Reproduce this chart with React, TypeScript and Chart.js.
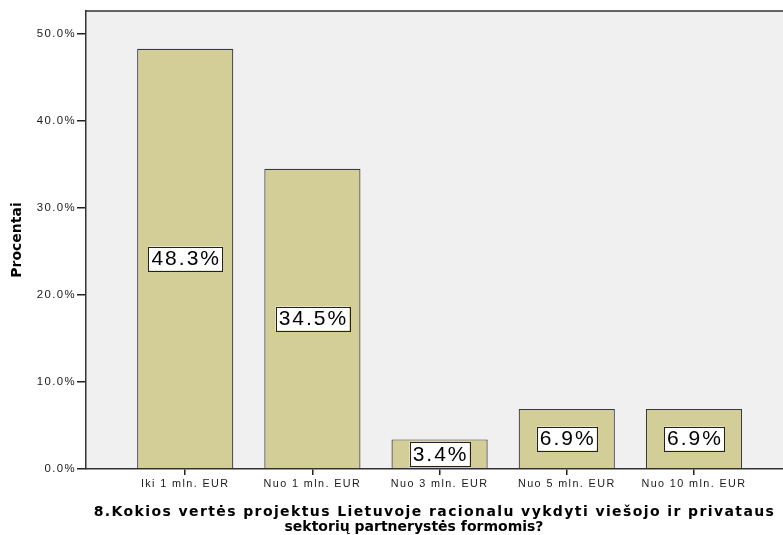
import React, { useEffect, useRef } from 'react';
import { Chart, registerables } from 'chart.js';

Chart.register(...registerables);

const categories = ['Iki 1 mln. EUR', 'Nuo 1 mln. EUR', 'Nuo 3 mln. EUR', 'Nuo 5 mln. EUR', 'Nuo 10 mln. EUR'];
const percentages = [48.3, 34.5, 3.4, 6.9, 6.9];
const yTickValues = [0, 10, 20, 30, 40, 50];
const yAxisTitle = 'Procentai';
const xAxisTitleLine1 = '8.Kokios vertės projektus Lietuvoje racionalu vykdyti viešojo ir privataus';
const xAxisTitleLine2 = 'sektorių partnerystės formomis?';

const W = 783;
const H = 535;
const SPACED = '1.4px';

const plotFrame = {
  id: 'plotFrame',
  afterLayout(chart: any) {
    // the second title line sits a little left of the plot centre in the original
    const s = chart.scales.x2;
    if (s) {
      s.right = s.right - 41;
      s.width = s.right - s.left;
    }
  },
  beforeDraw(chart: any) {
    const { ctx, chartArea } = chart;
    try { (ctx as any).letterSpacing = '0px'; } catch (e) {}
    ctx.save();
    ctx.fillStyle = '#f0f0f0';
    ctx.fillRect(chartArea.left, chartArea.top, chartArea.right - chartArea.left, chartArea.bottom - chartArea.top);
    ctx.restore();
  },
  afterDatasetsDraw(chart: any) {
    chart.ctx.beginPath();
    try { (chart.ctx as any).letterSpacing = SPACED; } catch (e) {}
  },
  afterDraw(chart: any) {
    const { ctx, chartArea } = chart;
    try { (ctx as any).letterSpacing = '0px'; } catch (e) {}
    ctx.save();
    ctx.strokeStyle = '#333';
    ctx.lineWidth = 1.5;
    ctx.beginPath();
    ctx.moveTo(chartArea.left, chartArea.top);
    ctx.lineTo(chartArea.right, chartArea.top);
    ctx.stroke();
    ctx.restore();
  },
};

const barLabels = {
  id: 'barLabels',
  afterDatasetsDraw(chart: any) {
    const { ctx } = chart;
    const meta = chart.getDatasetMeta(0);
    const data = chart.data.datasets[0].data as any[];
    ctx.save();
    ctx.font = '21px "Liberation Sans", Arial, sans-serif';
    try { (ctx as any).letterSpacing = '2px'; } catch (e) {}
    ctx.textAlign = 'center';
    ctx.textBaseline = 'middle';
    meta.data.forEach((el: any, i: number) => {
      const p = el.getProps(['x', 'y', 'base'], true);
      const cy = (p.y + p.base) / 2;
      const text = Number(data[i].y).toFixed(1) + '%';
      const tw = ctx.measureText(text).width;
      const bw = tw + 4;
      const bh = 24;
      ctx.fillStyle = '#ffffff';
      ctx.fillRect(p.x - bw / 2, cy - bh / 2, bw, bh);
      ctx.strokeStyle = '#222';
      ctx.lineWidth = 1;
      ctx.strokeRect(Math.round(p.x - bw / 2) + 0.5, Math.round(cy - bh / 2) + 0.5, Math.round(bw), bh);
      ctx.fillStyle = '#000';
      ctx.fillText(text, p.x + 1, cy + 1);
    });
    ctx.restore();
  },
};

export default function App() {
  const ref = useRef<HTMLCanvasElement | null>(null);

  useEffect(() => {
    if (!ref.current) return;
    const chart = new Chart(ref.current, {
      type: 'bar',
      data: {
        datasets: [
          {
            xAxisID: 'x',
            yAxisID: 'y',
            data: percentages.map((v, i) => ({ x: i, y: v })),
            backgroundColor: '#d3ce97',
            borderColor: '#3a3a3a',
            borderWidth: 1.2,
            barPercentage: 0.756,
            categoryPercentage: 1,
          },
        ],
      },
      options: {
        animation: false,
        responsive: false,
        devicePixelRatio: 1,
        layout: { padding: { top: 11, left: 0, right: 0, bottom: 0 } },
        plugins: {
          legend: { display: false },
          tooltip: { enabled: false },
        },
        scales: {
          x: {
            type: 'linear',
            position: 'bottom',
            weight: 0,
            offset: false,
            min: -0.78,
            max: 4.7,
            afterBuildTicks: (scale: any) => {
              scale.ticks = categories.map((_, i) => ({ value: i }));
            },
            afterFit: (scale: any) => {
              scale.height = 51;
            },
            ticks: {
              z: 1,
              autoSkip: false,
              maxRotation: 0,
              minRotation: 0,
              padding: 3,
              color: '#1a1a1a',
              font: { family: '"Liberation Sans", Arial, sans-serif', size: 10.8 },
              callback: (v: any) => categories[Math.round(Number(v))] ?? '',
            },
            grid: { z: 1, display: true, offset: false, drawOnChartArea: false, drawTicks: true, tickLength: 6, color: '#222', lineWidth: 1.5 },
            border: { z: 1, display: true, color: '#333', width: 1.5 },
            title: {
              display: true,
              text: xAxisTitleLine1,
              color: '#000',
              font: { family: '"DejaVu Sans", Verdana, sans-serif', size: 14, weight: 'bold', lineHeight: 1.07 },
              padding: { top: 0, bottom: 0 },
            },
          },
          x2: {
            type: 'linear',
            axis: 'x',
            position: 'bottom',
            weight: 1,
            offset: false,
            min: -0.78,
            max: 4.7,
            afterFit: (scale: any) => {
              scale.height = 15;
            },
            ticks: { display: false },
            grid: { display: false, drawTicks: false, drawOnChartArea: false, lineWidth: 0 },
            border: { display: false, width: 0 },
            title: {
              display: true,
              text: xAxisTitleLine2,
              color: '#000',
              font: { family: '"DejaVu Sans", Verdana, sans-serif', size: 14, weight: 'bold', lineHeight: 1.07 },
              padding: { top: 0, bottom: 0 },
            },
          },
          y: {
            type: 'linear',
            min: 0,
            max: 52.64,
            afterBuildTicks: (scale: any) => {
              scale.ticks = yTickValues.map((v) => ({ value: v }));
            },
            afterFit: (scale: any) => {
              scale.width = 86;
            },
            ticks: {
              z: 1,
              padding: 1,
              color: '#1a1a1a',
              font: { family: '"Liberation Sans", Arial, sans-serif', size: 11.4 },
              callback: (v: any) => Number(v).toFixed(1) + '%',
            },
            grid: { display: true, drawOnChartArea: false, drawTicks: true, tickLength: 9, color: '#222', lineWidth: 1.5 },
            border: { display: true, color: '#333', width: 1.5 },
            title: {
              display: true,
              text: yAxisTitle,
              color: '#000',
              font: { family: '"DejaVu Sans", Verdana, sans-serif', size: 14, weight: 'bold', lineHeight: 1.2 },
              padding: { top: 8.5, bottom: 0 },
            },
          },
        },
      },
      plugins: [barLabels, plotFrame],
    } as any);
    return () => chart.destroy();
  }, []);

  return (
    <div style={{ position: 'fixed', left: 0, top: 0, width: W, height: H, background: '#ffffff' }}>
      <canvas ref={ref} width={W} height={H} style={{ display: 'block', width: W, height: H }} />
    </div>
  );
}
